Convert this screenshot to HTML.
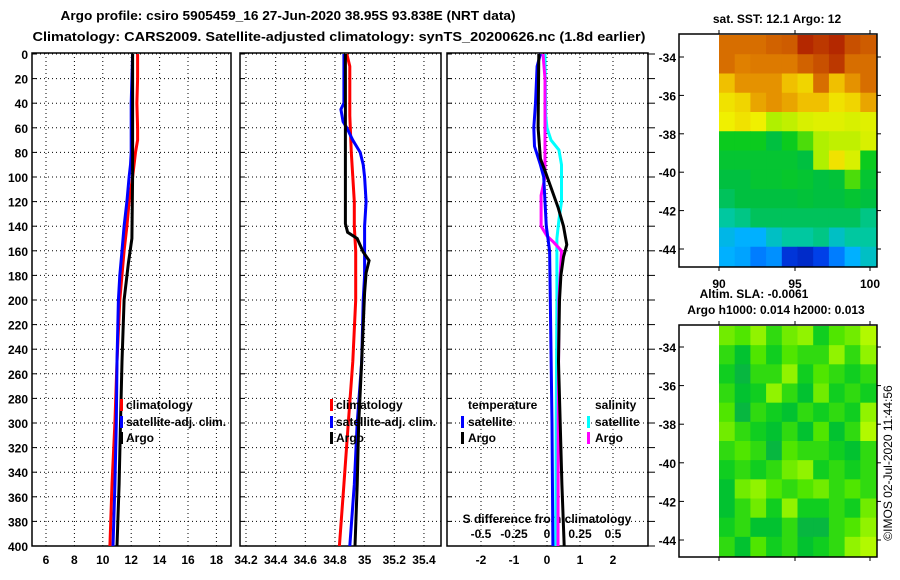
<!DOCTYPE html>
<html><head><meta charset="utf-8"><style>
html,body{margin:0;padding:0;background:#fff;}
svg{display:block;font-family:"Liberation Sans",Arial,sans-serif;}
.t{font-weight:bold;font-size:13px;}
.k{font-weight:bold;font-size:12px;}
</style></head><body>
<svg id="fig" width="900" height="580" viewBox="0 0 900 580" xmlns="http://www.w3.org/2000/svg">
<rect width="900" height="580" fill="#fff"/>
<text class="t" x="288" y="20" text-anchor="middle" textLength="455" lengthAdjust="spacingAndGlyphs">Argo profile: csiro 5905459_16 27-Jun-2020 38.95S 93.838E (NRT data)</text>
<text class="t" x="339" y="41" text-anchor="middle" textLength="613" lengthAdjust="spacingAndGlyphs">Climatology: CARS2009. Satellite-adjusted climatology: synTS_20200626.nc (1.8d earlier)</text>
<g id="charts"></g>
<g id="maps"></g>
<text x="892" y="463" font-size="12" text-anchor="middle" transform="rotate(-90 892 463)">©IMOS 02-Jul-2020 11:44:56</text>
</svg>
<script>
// ---- data ----
const depthTicks=[0,20,40,60,80,100,120,140,160,180,200,220,240,260,280,300,320,340,360,380,400];
const tTicks=[6,8,10,12,14,16,18];
const sTicks=[34.2,34.4,34.6,34.8,35,35.2,35.4];
const dTicks=[-2,-1,0,1,2];
const dsTickLabels=["-0.5","-0.25","0","0.25","0.5"];
const tClimD=[0,20,40,60,70,80,100,120,140,160,200,250,300,350,400];
const tClimV=[12.45,12.45,12.4,12.45,12.45,12.3,12.1,11.85,11.7,11.5,11.2,11.0,10.85,10.65,10.5];
const tSatD=[0,20,40,80,90,100,120,140,160,180,200,250,300,350,400];
const tSatV=[12.1,12.05,12.0,12.0,11.95,11.85,11.7,11.5,11.35,11.2,11.1,11.0,10.95,10.85,10.72];
const tArgoD=[0,100,150,170,200,250,300,350,400];
const tArgoV=[12.1,12.1,12.05,11.8,11.5,11.35,11.25,11.15,11.0];
const sClimD=[0,10,50,80,100,120,140,160,200,250,300,350,400];
const sClimV=[34.88,34.9,34.9,34.91,34.92,34.93,34.93,34.94,34.94,34.92,34.89,34.86,34.83];
const sSatD=[0,20,40,45,55,60,70,80,90,100,120,140,160,180,200,250,300,350,400];
const sSatV=[34.86,34.86,34.86,34.84,34.855,34.88,34.92,34.97,34.99,35.0,35.01,35.0,35.0,35.0,34.99,34.98,34.95,34.93,34.9];
const sArgoD=[0,50,100,138,145,150,161,168,178,194,250,300,350,400];
const sArgoV=[34.87,34.87,34.87,34.87,34.885,34.95,34.99,35.03,35.01,35.0,34.98,34.96,34.95,34.935];
const dtSatD=[0,10,40,60,75,90,100,120,140,160,200,300,400];
const dtSatV=[-0.2,-0.3,-0.35,-0.4,-0.38,-0.2,-0.1,-0.06,-0.02,0.08,0.1,0.15,0.18];
const dtArgoD=[0,60,85,95,110,125,140,155,165,180,200,250,300,350,400];
const dtArgoV=[-0.25,-0.27,-0.2,-0.06,0.14,0.34,0.5,0.6,0.5,0.42,0.38,0.35,0.4,0.45,0.52];
const dsSatD=[0,50,60,70,78,90,120,135,150,200,300,400];
const dsSatV=[-0.015,-0.01,0.0,0.03,0.09,0.11,0.11,0.09,0.075,0.075,0.07,0.067];
const dsArgoD=[0,20,100,115,140,148,153,160,180,200,300,400];
const dsArgoV=[-0.03,-0.015,-0.015,-0.045,-0.045,0.0,0.05,0.11,0.1,0.09,0.085,0.083];
const sstGrid=[
[0.85,0.85,0.85,0.87,0.88,0.95,0.93,0.95,0.9,0.88],
[0.85,0.82,0.83,0.83,0.83,0.87,0.9,0.93,0.85,0.85],
[0.75,0.8,0.8,0.8,0.75,0.72,0.85,0.75,0.8,0.85],
[0.7,0.72,0.78,0.8,0.78,0.75,0.75,0.7,0.72,0.78],
[0.68,0.7,0.68,0.6,0.62,0.65,0.66,0.66,0.65,0.66],
[0.5,0.5,0.5,0.45,0.5,0.55,0.6,0.62,0.62,0.65],
[0.47,0.47,0.47,0.47,0.47,0.45,0.6,0.7,0.65,0.5],
[0.45,0.45,0.47,0.47,0.48,0.47,0.45,0.46,0.55,0.47],
[0.43,0.45,0.45,0.45,0.45,0.46,0.45,0.45,0.47,0.45],
[0.38,0.4,0.43,0.43,0.43,0.43,0.43,0.43,0.43,0.4],
[0.32,0.3,0.3,0.35,0.38,0.38,0.4,0.35,0.38,0.38],
[0.3,0.28,0.22,0.25,0.1,0.08,0.12,0.22,0.3,0.35]];
const slaGrid=[
[0.7,0.6,0.8,0.5,0.7,0.8,0.4,0.6,0.7,0.9],
[0.5,0.3,0.6,0.4,0.6,0.5,0.5,0.8,0.5,0.8],
[0.4,0.2,0.5,0.5,0.8,0.4,0.6,0.5,0.4,0.5],
[0.5,0.3,0.4,0.8,0.5,0.3,0.7,0.4,0.5,0.4],
[0.6,0.2,0.5,0.4,0.3,0.5,0.4,0.5,0.4,0.8],
[0.7,0.5,0.4,0.3,0.5,0.3,0.6,0.3,0.5,0.9],
[0.5,0.6,0.5,0.2,0.6,0.5,0.5,0.4,0.3,0.5],
[0.4,0.5,0.4,0.5,0.7,0.8,0.4,0.5,0.4,0.5],
[0.3,0.7,0.8,0.6,0.5,0.6,0.7,0.5,0.6,0.5],
[0.3,0.5,0.7,0.4,0.8,0.4,0.4,0.5,0.4,0.7],
[0.4,0.5,0.3,0.3,0.5,0.2,0.2,0.5,0.6,0.8],
[0.5,0.3,0.6,0.4,0.5,0.3,0.4,0.5,0.8,0.9]];
const latLabels=["-34","-36","-38","-40","-42","-44"];
const lonLabels=["90","95","100"];

// ---- geometry ----
const NS="http://www.w3.org/2000/svg";
const TOP=53,BOT=546;
const yD=d=>54+d*1.23;
const xT=v=>46+(v-6)*14.2;
const xS=v=>246+(v-34.2)*148.3;
const xDT=v=>547+v*33;
const xDS=v=>547+v*132;
const g=document.getElementById('charts');
function mk(tag,attrs,parent){const e=document.createElementNS(NS,tag);for(const k in attrs)e.setAttribute(k,attrs[k]);(parent||g).appendChild(e);return e;}
function txt(x,y,s,cls,anchor,parent){const e=mk('text',{x:x,y:y,'class':cls,'text-anchor':anchor||'start'},parent);e.textContent=s;return e;}

const panels=[{x0:32,x1:231,ticks:tTicks,xf:xT,name:'temperature'},{x0:240,x1:441,ticks:sTicks,xf:xS,name:'salinity'},{x0:447,x1:648,ticks:dTicks,xf:xDT,name:'difference'}];
panels.forEach(p=>{
  const pg=mk('g',{});
  
  
  depthTicks.forEach(d=>{const l=mk('line',{x1:p.x0,x2:p.x1,y1:yD(d),y2:yD(d),stroke:'#000','stroke-width':1,'stroke-dasharray':'1,3'},pg);
    
    mk('line',{x1:p.x0,x2:p.x0+5,y1:yD(d),y2:yD(d),stroke:'#000','stroke-width':1},pg);});
  p.ticks.forEach(v=>{const l=mk('line',{x1:p.xf(v),x2:p.xf(v),y1:TOP,y2:BOT,stroke:'#000','stroke-width':1,'stroke-dasharray':'1,3'},pg);
    
    const t=txt(p.xf(v),564,String(v),'k','middle',pg);
    });
  const f=mk('rect',{x:p.x0,y:TOP,width:p.x1-p.x0,height:BOT-TOP,fill:'none',stroke:'#000','stroke-width':1.5},pg);
  
});
depthTicks.forEach(d=>{const t=txt(28,yD(d)+5,String(d),'k','end');
  
  mk('line',{x1:648,x2:655,y1:yD(d),y2:yD(d),stroke:'#000','stroke-width':1});});
dsTickLabels.forEach((s,i)=>{const t=txt(xDS(parseFloat(s)),538,s,'k','middle');
  });
const sd=txt(547,523,'S difference from climatology','k','middle');


function line(D,V,xf,col,name){
  const pts=D.map((d,i)=>xf(V[i]).toFixed(1)+','+yD(d).toFixed(1)).join(' ');
  const e=mk('polyline',{points:pts,fill:'none',stroke:col,'stroke-width':3,'stroke-linejoin':'miter'});
  
  
}
line(tClimD,tClimV,xT,'#f00','temp-climatology-line');
line(tSatD,tSatV,xT,'#00f','temp-satellite-line');
line(tArgoD,tArgoV,xT,'#000','temp-argo-line');
line(sClimD,sClimV,xS,'#f00','sal-climatology-line');
line(sSatD,sSatV,xS,'#00f','sal-satellite-line');
line(sArgoD,sArgoV,xS,'#000','sal-argo-line');
line(dsSatD,dsSatV,xDS,'#0ff','sdiff-satellite-line');
line(dsArgoD,dsArgoV,xDS,'#f0f','sdiff-argo-line');
line(dtSatD,dtSatV,xDT,'#00f','tdiff-satellite-line');
line(dtArgoD,dtArgoV,xDT,'#000','tdiff-argo-line');

function leg(bx,tx,y,col,label){
  if(col){const b=mk('rect',{x:bx,y:y-10,width:3,height:12,fill:col});
    }
  const t=txt(tx,y,label,'k','start');
  
}
leg(120,126,409,'#f00','climatology');leg(120,126,426,'#00f','satellite-adj. clim.');leg(120,126,442,'#000','Argo');
leg(330,336,409,'#f00','climatology');leg(330,336,426,'#00f','satellite-adj. clim.');leg(330,336,442,'#000','Argo');
leg(0,468,409,null,'temperature');leg(461,468,426,'#00f','satellite');leg(461,468,442,'#000','Argo');
leg(0,595,409,null,'salinity');leg(587,595,426,'#0ff','satellite');leg(587,595,442,'#f0f','Argo');

// ---- maps ----
const mg=document.getElementById('maps');
const sstStops=[[0,[0,0,140]],[0.15,[0,80,255]],[0.3,[0,176,255]],[0.38,[0,200,160]],[0.45,[0,192,64]],[0.52,[16,208,16]],[0.6,[176,240,0]],[0.68,[240,240,0]],[0.75,[240,192,0]],[0.82,[224,128,0]],[0.9,[200,80,0]],[1,[160,0,0]]];
const slaStops=[[0,[16,160,96]],[0.35,[0,200,40]],[0.6,[80,230,0]],[1,[210,255,0]]];
function cmap(stops,v){for(let i=1;i<stops.length;i++){if(v<=stops[i][0]){const a=stops[i-1],b=stops[i],t=(v-a[0])/(b[0]-a[0]);
  return 'rgb('+a[1].map((c,j)=>Math.round(c+(b[1][j]-c)*t)).join(',')+')';}}return 'rgb('+stops[stops.length-1][1].join(',')+')';}
function drawMap(grid,stops,y0,y1,labY,name){
  const x0=719,x1=876,rows=grid.length,cols=grid[0].length,cw=(x1-x0)/cols,ch=(y1-y0)/rows;
  grid.forEach((row,r)=>row.forEach((v,c)=>{const e=mk('rect',{x:x0+c*cw,y:y0+r*ch,width:cw+0.5,height:ch+0.5,fill:cmap(stops,v)},mg);
    }));
  const f=mk('rect',{x:679,y:y0-1,width:198,height:y1-y0+2,fill:'none',stroke:'#000','stroke-width':1.5},mg);
  
  latLabels.forEach((s,i)=>{const y=labY[0]+i*(labY[1]-labY[0])/5;
    const t=txt(676,y+5,s,'k','end',mg);
    mk('line',{x1:679,x2:684,y1:y,y2:y,stroke:'#000'},mg);mk('line',{x1:877,x2:881,y1:y,y2:y,stroke:'#000'},mg);});
  [719,795,870].forEach(x=>{mk('line',{x1:x,x2:x,y1:y0-1,y2:y0-5,stroke:'#000'},mg);mk('line',{x1:x,x2:x,y1:y1+1,y2:y1+5,stroke:'#000'},mg);});
}
drawMap(sstGrid,sstStops,35,266,[57,249],'sst-map');
drawMap(slaGrid,slaStops,326,556,[347,540],'sla-map');
lonLabels.forEach((s,i)=>{const t=txt([719,795,870][i],288,s,'k','middle',mg);});
let e=txt(777,23,'sat. SST: 12.1 Argo: 12','k','middle',mg);
e=txt(754,298,'Altim. SLA: -0.0061','k','middle',mg);
e=txt(776,314,'Argo h1000: 0.014 h2000: 0.013','k','middle',mg);
</script>
</body></html>
